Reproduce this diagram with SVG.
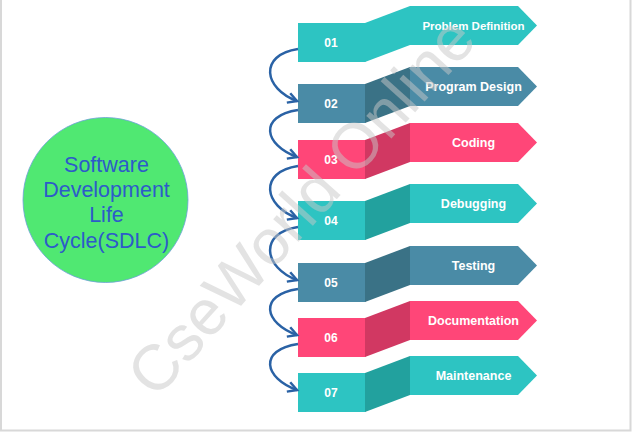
<svg xmlns="http://www.w3.org/2000/svg" width="632" height="432" viewBox="0 0 632 432">
  <defs>
    <style>
      .teal { fill: #2dc4c2; }
      .teal-side { fill: #22a19e; }
      .blue { fill: #4a8ba6; }
      .blue-side { fill: #3a7286; }
      .pink { fill: #ff4678; }
      .pink-side { fill: #d13862; }
      .num { font-family: "Liberation Sans", Arial, sans-serif; font-weight: bold; font-size: 12px; fill: #ffffff; text-anchor: middle; }
      .lbl { font-family: "Liberation Sans", Arial, sans-serif; font-weight: bold; font-size: 12.5px; fill: #ffffff; text-anchor: middle; }
      .title { font-family: "Liberation Sans", Arial, sans-serif; font-size: 21.5px; fill: #2d5bc9; text-anchor: middle; }
      .link { fill: none; stroke: #2a62a5; stroke-width: 2.5; marker-end: url(#head); }
      .mark { font-family: "Liberation Sans", Arial, sans-serif; font-size: 64px; fill: #c8c8c8; opacity: 0.5; }
    </style>
    <marker id="head" markerUnits="userSpaceOnUse" markerWidth="14" markerHeight="14" refX="9" refY="5" orient="auto" viewBox="-2 -2 14 14">
      <path d="M0,0 L9,5 L0,10" fill="none" stroke="#2a62a5" stroke-width="2.5" stroke-linejoin="miter"/>
    </marker>
  </defs>

  <rect width="632" height="432" fill="#ffffff"/>
  <!-- frame -->
  <path d="M1,0 V430.5 H630.5 V0" fill="none" stroke="#d8d8d8" stroke-width="2"/>

  <!-- central topic -->
  <g id="sdlc">
    <circle cx="105.5" cy="200" r="82.5" fill="#50e872" stroke="#6c9fd8" stroke-width="0.8"/>
    <text class="title" x="106.5" y="172">Software</text>
    <text class="title" x="106.5" y="197">Development</text>
    <text class="title" x="106.5" y="222">Life</text>
    <text class="title" x="106.5" y="248">Cycle(SDLC)</text>
  </g>

  <!-- steps: front box, slanted side, arrow banner -->
  <g id="step1">
    <rect class="teal" x="298" y="23" width="67.5" height="39"/>
    <polygon class="teal" points="365,23 410,6 410,45 365,62"/>
    <polygon class="teal" points="410,6 518,6 537,25.5 518,45 410,45"/>
    <text class="num" x="331" y="47">01</text>
    <text class="lbl" x="473.5" y="30" style="font-size:11.5px">Problem Definition</text>
  </g>
  <g id="step2">
    <rect class="blue" x="298" y="84" width="67.5" height="39"/>
    <polygon class="blue-side" points="365,84 410,67 410,106 365,123"/>
    <polygon class="blue" points="410,67 518,67 537,86.5 518,106 410,106"/>
    <text class="num" x="331" y="108">02</text>
    <text class="lbl" x="473.5" y="91">Program Design</text>
  </g>
  <g id="step3">
    <rect class="pink" x="298" y="140" width="67.5" height="39"/>
    <polygon class="pink-side" points="365,140 410,123 410,162 365,179"/>
    <polygon class="pink" points="410,123 518,123 537,142.5 518,162 410,162"/>
    <text class="num" x="331" y="164">03</text>
    <text class="lbl" x="473.5" y="147">Coding</text>
  </g>
  <g id="step4">
    <rect class="teal" x="298" y="201" width="67.5" height="39"/>
    <polygon class="teal-side" points="365,201 410,184 410,223 365,240"/>
    <polygon class="teal" points="410,184 518,184 537,203.5 518,223 410,223"/>
    <text class="num" x="331" y="225">04</text>
    <text class="lbl" x="473.5" y="208">Debugging</text>
  </g>
  <g id="step5">
    <rect class="blue" x="298" y="263" width="67.5" height="39"/>
    <polygon class="blue-side" points="365,263 410,246 410,285 365,302"/>
    <polygon class="blue" points="410,246 518,246 537,265.5 518,285 410,285"/>
    <text class="num" x="331" y="287">05</text>
    <text class="lbl" x="473.5" y="270">Testing</text>
  </g>
  <g id="step6">
    <rect class="pink" x="298" y="318" width="67.5" height="39"/>
    <polygon class="pink-side" points="365,318 410,301 410,340 365,357"/>
    <polygon class="pink" points="410,301 518,301 537,320.5 518,340 410,340"/>
    <text class="num" x="331" y="342">06</text>
    <text class="lbl" x="473.5" y="325">Documentation</text>
  </g>
  <g id="step7">
    <rect class="teal" x="298" y="373" width="67.5" height="39"/>
    <polygon class="teal-side" points="365,373 410,356 410,395 365,412"/>
    <polygon class="teal" points="410,356 518,356 537,375.5 518,395 410,395"/>
    <text class="num" x="331" y="397">07</text>
    <text class="lbl" x="473.5" y="380">Maintenance</text>
  </g>

  <!-- curved links between consecutive steps -->
  <g id="links">
    <path class="link" d="M298,49 C258,55 264,89 297,101"/>
    <path class="link" d="M298,110 C258,116 264,145 297,157"/>
    <path class="link" d="M298,166 C258,172 264,206 297,218"/>
    <path class="link" d="M298,227 C258,233 264,268 297,280"/>
    <path class="link" d="M298,289 C258,295 264,323 297,335"/>
    <path class="link" d="M298,344 C258,350 264,378 297,390"/>
  </g>

  <!-- watermark -->
  <text class="mark" transform="translate(156,400) rotate(-48)">CseWorld Online</text>
</svg>
